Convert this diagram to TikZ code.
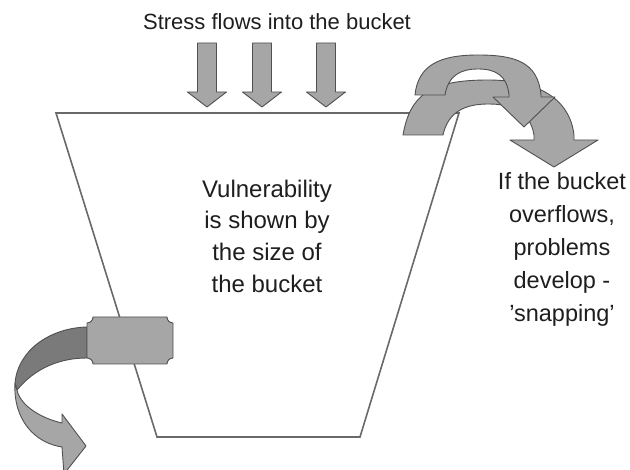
\documentclass[tikz,border=0pt]{standalone}
\usepackage{fontspec}
\setmainfont{Liberation Sans}
\definecolor{arrowfill}{RGB}{166,166,166}
\definecolor{arrowedge}{RGB}{80,80,80}
\definecolor{darkrib}{RGB}{122,122,122}
\definecolor{bucketline}{RGB}{105,105,105}
\definecolor{txt}{RGB}{30,30,30}
\begin{document}
\begin{tikzpicture}[x=1pt,y=-1pt,
  shapefill/.style={fill=arrowfill, draw=arrowedge, line width=0.9pt, line join=round},
  ribbondark/.style={fill=darkrib, draw=arrowedge, line width=0.9pt, line join=round},
  bucketstyle/.style={draw=bucketline, line width=1.6pt, line join=miter},
  label/.style={text=txt, align=center, inner sep=0pt},
  downarrow/.pic={\draw[shapefill] (-9.5,43) -- (9.5,43) -- (9.5,92) -- (19.5,92) -- (0,107) -- (-19.5,92) -- (-9.5,92) -- cycle;}
]
\useasboundingbox (0,0) rectangle (630,470);

% bucket
\coordinate (tl) at (56,113);
\coordinate (tr) at (459,113);
\coordinate (br) at (360,437);
\coordinate (bl) at (157,437);
\draw[bucketstyle] (tl) -- (tr) -- (br) -- (bl) -- cycle;

% stress arrows
\pic (s1) at (207,0) {downarrow};
\pic (s2) at (262,0) {downarrow};
\pic (s3) at (326,0) {downarrow};

% overflow arrows: lower (behind) then upper (front)
\draw[shapefill] (403,135) .. controls (410,95) and (430,80) .. (488,80)
  .. controls (540,80) and (570,100) .. (574,135) -- (574,140) -- (598,140)
  -- (554,167) -- (510,140) -- (534,140) -- (534,135)
  .. controls (530,110) and (510,104) .. (488,104)
  .. controls (465,104) and (448,112) .. (443,135) -- cycle;
\draw[shapefill] (415,95) .. controls (418,65) and (440,55) .. (478,55)
  .. controls (515,55) and (538,62) .. (541,95) -- (541,97) -- (555,97)
  -- (524,127) -- (493,97) -- (509,97) -- (509,95)
  .. controls (507,75) and (495,69) .. (478,69)
  .. controls (460,69) and (448,76) .. (445,95) -- cycle;

% leak ribbon arrow
\draw[ribbondark] (87,327) .. controls (50,328) and (18,350) .. (15,383)
  -- (17,390) .. controls (35,368) and (60,358) .. (87,358) -- cycle;
\draw[shapefill] (15,383) .. controls (13,420) and (35,443) .. (62,447)
  -- (64,474) -- (86,446) -- (62,414) -- (62,423)
  .. controls (40,418) and (20,405) .. (17,390) -- cycle;

% leak box with notched corners
\draw[shapefill] (93,317) -- (167,317) arc[start angle=180, end angle=90, radius=6]
  -- (173,358) arc[start angle=270, end angle=180, radius=6]
  -- (93,364) arc[start angle=0, end angle=-90, radius=6]
  -- (87,323) arc[start angle=90, end angle=0, radius=6] -- cycle;

% texts
\node[label, font=\fontsize{22}{26}\selectfont] (title) at (277,22) {Stress flows into the bucket};
\node[label, font=\fontsize{24}{31.7}\selectfont] (vuln) at (267,236) {Vulnerability\\is shown by\\the size of\\the bucket};
\node[label, font=\fontsize{23.5}{33}\selectfont] (over) at (562,249) {If the bucket\\overflows,\\problems\\develop -\\'snapping'};
\end{tikzpicture}
\end{document}
